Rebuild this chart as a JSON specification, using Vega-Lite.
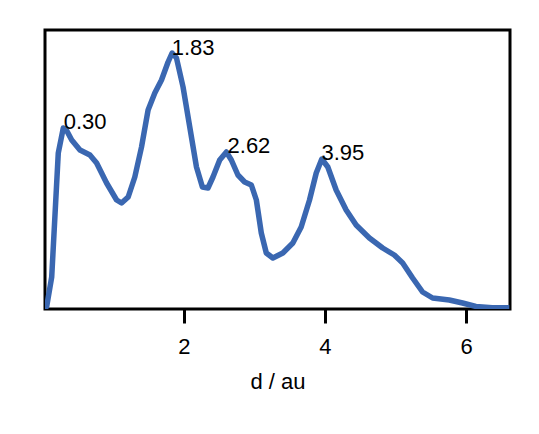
{
  "$schema": "https://vega.github.io/schema/vega-lite/v6.json",
  "width": 465,
  "height": 279,
  "autosize": "none",
  "padding": {"left": 45, "top": 30, "right": 29, "bottom": 125},
  "background": "white",
  "config": {
    "view": {"stroke": "black", "strokeWidth": 3},
    "font": "Liberation Sans"
  },
  "datasets": {
    "curve": [
      {"d": 0.035, "g": 0},
      {"d": 0.06, "g": 3},
      {"d": 0.13, "g": 32},
      {"d": 0.223, "g": 156},
      {"d": 0.294, "g": 181},
      {"d": 0.33, "g": 180},
      {"d": 0.413, "g": 169},
      {"d": 0.53, "g": 159},
      {"d": 0.671, "g": 154},
      {"d": 0.766, "g": 146},
      {"d": 0.907, "g": 126},
      {"d": 1.049, "g": 109},
      {"d": 1.119, "g": 106},
      {"d": 1.213, "g": 112},
      {"d": 1.307, "g": 132},
      {"d": 1.402, "g": 162},
      {"d": 1.495, "g": 199},
      {"d": 1.59, "g": 216},
      {"d": 1.685, "g": 229},
      {"d": 1.778, "g": 247},
      {"d": 1.835, "g": 256},
      {"d": 1.897, "g": 251},
      {"d": 1.99, "g": 222},
      {"d": 2.085, "g": 182},
      {"d": 2.18, "g": 142},
      {"d": 2.264, "g": 122},
      {"d": 2.343, "g": 121},
      {"d": 2.414, "g": 132},
      {"d": 2.509, "g": 149},
      {"d": 2.604, "g": 157},
      {"d": 2.674, "g": 149},
      {"d": 2.767, "g": 134},
      {"d": 2.862, "g": 127},
      {"d": 2.957, "g": 124},
      {"d": 3.028, "g": 109},
      {"d": 3.098, "g": 76},
      {"d": 3.169, "g": 56},
      {"d": 3.262, "g": 51},
      {"d": 3.403, "g": 56},
      {"d": 3.545, "g": 66},
      {"d": 3.663, "g": 82},
      {"d": 3.781, "g": 109},
      {"d": 3.876, "g": 136},
      {"d": 3.955, "g": 150},
      {"d": 4.04, "g": 142},
      {"d": 4.158, "g": 119},
      {"d": 4.3, "g": 99},
      {"d": 4.441, "g": 84},
      {"d": 4.629, "g": 71},
      {"d": 4.817, "g": 61},
      {"d": 4.982, "g": 54},
      {"d": 5.1, "g": 46},
      {"d": 5.241, "g": 31},
      {"d": 5.382, "g": 17},
      {"d": 5.524, "g": 11},
      {"d": 5.76, "g": 9},
      {"d": 5.948, "g": 6},
      {"d": 6.137, "g": 2.5},
      {"d": 6.37, "g": 1.3},
      {"d": 6.61, "g": 1.3}
    ],
    "peaks": [
      {"d": 0.3, "g": 181, "label": "0.30"},
      {"d": 1.83, "g": 255, "label": "1.83"},
      {"d": 2.62, "g": 157, "label": "2.62"},
      {"d": 3.95, "g": 150, "label": "3.95"}
    ]
  },
  "layer": [
    {
      "data": {"name": "curve"},
      "mark": {"type": "line", "color": "#3a67b1", "strokeWidth": 5.5, "interpolate": "linear", "strokeJoin": "round", "strokeCap": "butt", "clip": true},
      "encoding": {
        "x": {
          "field": "d", "type": "quantitative",
          "scale": {"domain": [0.035, 6.62], "nice": false, "zero": false},
          "axis": {
            "title": "d / au",
            "values": [2, 4, 6],
            "format": "d",
            "domain": false,
            "grid": false,
            "tickColor": "black",
            "tickWidth": 3,
            "tickSize": 14,
            "labelFontSize": 22,
            "labelColor": "black",
            "labelPadding": 13,
            "titleFontSize": 22,
            "titleFontWeight": "normal",
            "titleColor": "black",
            "titlePadding": 14
          }
        },
        "y": {
          "field": "g", "type": "quantitative",
          "scale": {"domain": [0, 279], "nice": false},
          "axis": null
        }
      }
    },
    {
      "data": {"name": "peaks"},
      "mark": {"type": "text", "align": "left", "baseline": "alphabetic", "fontSize": 22, "color": "black", "dy": 1},
      "encoding": {
        "x": {"field": "d", "type": "quantitative"},
        "y": {"field": "g", "type": "quantitative"},
        "text": {"field": "label"}
      }
    }
  ]
}
